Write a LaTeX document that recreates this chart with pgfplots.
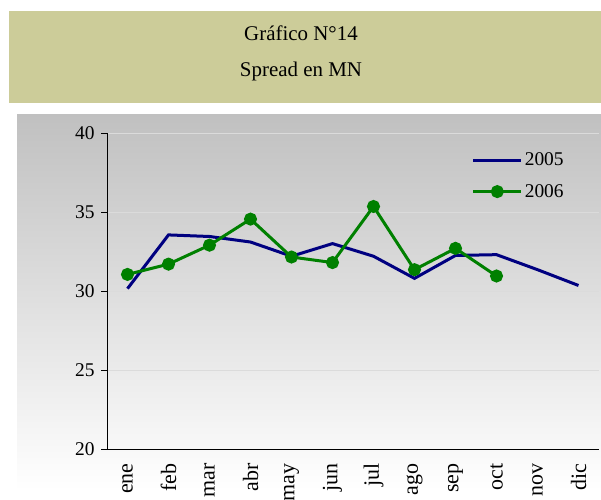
\documentclass[border=0pt]{standalone}
\usepackage{pgfplots}
\pgfplotsset{compat=1.18}
\usepackage{fontspec}
\setmainfont{Liberation Serif}

\definecolor{titlebg}{RGB}{204,204,153}
\definecolor{bgtop}{RGB}{192,192,192}
\definecolor{navy}{RGB}{0,0,128}
\definecolor{dgreen}{RGB}{0,128,0}

\begin{document}
\begin{tikzpicture}
\path[use as bounding box] (0,0) rectangle (601bp,-500bp);
% title box
\fill[titlebg] (9bp,-11bp) rectangle (601bp,-103bp);
\node[font=\fontsize{21}{24}\selectfont] at (301bp,-33bp) {Gráfico N°14};
\node[font=\fontsize{21}{24}\selectfont] at (301bp,-71bp) {Spread en MN};
% chart background
\shade[top color=bgtop, bottom color=white] (17bp,-114bp) rectangle (601bp,-490bp);
\fill[white] (17bp,-490bp) rectangle (601bp,-500bp);

\begin{axis}[
    at={(107bp,-449bp)}, anchor=south west,
    scale only axis, width=492bp, height=316bp,
    font=\fontsize{19.5}{22}\selectfont,
    xmin=0, xmax=12, ymin=20, ymax=40,
    axis x line*=bottom, axis y line*=left,
    every outer x axis line/.append style={-},
    every outer y axis line/.append style={-},
    axis line style={black, line width=0.8bp},
    tick style={black, line width=0.8bp},
    tick align=outside, major tick length=6bp,
    ytick={20,25,30,35,40},
    yticklabel style={xshift=-3bp},
    ymajorgrids, grid style={black!14, line width=0.8bp},
    xtick={0.5,1.5,2.5,3.5,4.5,5.5,6.5,7.5,8.5,9.5,10.5,11.5},
    xticklabels={ene,feb,mar,abr,may,jun,jul,ago,sep,oct,nov,dic},
    x tick style={draw=none},
    xticklabel style={rotate=90, anchor=east, xshift=-5bp, font=\fontsize{22}{24}\selectfont},
    extra x ticks={0,1,2,3,4,5,6,7,8,9,10,11,12},
    extra x tick labels={},
    extra x tick style={grid=none, tick style={draw=black, line width=0.8bp}},
    tick label style={/pgf/number format/assume math mode=true},
    legend style={draw=none, fill=none, at={(0.735,0.95)}, anchor=north west,
        row sep=13bp, font=\fontsize{19.5}{22}\selectfont},
    legend cell align=left,
    legend image code/.code={
        \draw[mark repeat=2, mark phase=2, #1]
            plot coordinates {(0bp,0bp) (24bp,0bp) (48bp,0bp)};
    },
]
\addplot[navy, line width=3bp, mark=none] coordinates {
    (0.5,30.15) (1.5,33.55) (2.5,33.45) (3.5,33.1) (4.5,32.2) (5.5,33.0)
    (6.5,32.2) (7.5,30.8) (8.5,32.25) (9.5,32.3) (10.5,31.35) (11.5,30.35)
};
\addlegendentry{2005}
\addplot[dgreen, line width=3bp, mark=*, mark size=5bp, mark options={solid, fill=dgreen}] coordinates {
    (0.5,31.05) (1.5,31.7) (2.5,32.9) (3.5,34.55) (4.5,32.15) (5.5,31.8)
    (6.5,35.35) (7.5,31.35) (8.5,32.7) (9.5,30.95)
};
\addlegendentry{2006}
\node[font=\fontsize{19}{22}\selectfont] at (rel axis cs:0,0.42) [xshift=-69bp] {\%};
\end{axis}
\end{tikzpicture}
\end{document}
